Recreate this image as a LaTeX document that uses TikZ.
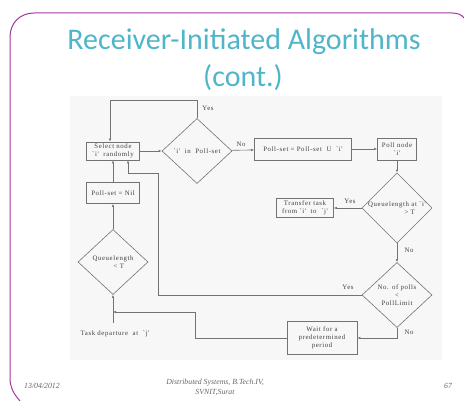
\documentclass[tikz,border=0pt]{standalone}
\usepackage{fontspec}
\setmainfont{Liberation Serif}
\newfontfamily\titlefont{Carlito}
\newfontfamily\scanfont[LetterSpace=9]{Liberation Serif}
\usetikzlibrary{shapes.geometric,arrows.meta}
\definecolor{qqccdd}{rgb}{0.31,0.71,0.79}
\definecolor{aaqqaa}{rgb}{0.64,0.22,0.62}
\definecolor{wwwwww}{rgb}{0.45,0.45,0.45}
\definecolor{ffffee}{rgb}{0.968,0.968,0.968}

\begin{document}
\begin{tikzpicture}[x=1pt,y=-1pt,
    box/.style={draw=wwwwww,line width=0.6pt,align=center,inner sep=1pt,font=\scanfont\fontsize{6.8}{7.8}\selectfont,text=black!75},
    dec/.style={box,diamond,inner sep=0pt,minimum width=70pt,minimum height=65pt},
    flow/.style={draw=wwwwww,line width=0.6pt,-{Latex[length=3pt,width=2.4pt]}},
    lab/.style={font=\scanfont\fontsize{6.8}{7.8}\selectfont,text=black!75}]
    \useasboundingbox (0,0) rectangle (464,401);
    \fill[color=ffffee] (70,96) rectangle (442,360);
    \draw [line width=1pt,color=aaqqaa] (20,401) .. controls (13,393) and (10,387) .. (10,378) -- (10,37) .. controls (10,23) and (20,13) .. (34,13) -- (452,13) .. controls (458,13) and (462,15) .. (464,18);
    \node[font=\titlefont\fontsize{30}{32}\selectfont,text=qqccdd] (title) at (244,42) {Receiver-Initiated Algorithms};
    \node[font=\titlefont\fontsize{30}{32}\selectfont,text=qqccdd] (cont) at (243,78) {(cont.)};
    \node[box,minimum width=53pt,minimum height=18pt] (sel) at (113,151) {Select node\\`i'\ \ randomly};
    \node[dec] (inset) at (197,151) {`i'\ \ in\ \ Poll-set};
    \node[box,minimum width=97pt,minimum height=22pt] (addset) at (303,149) {Poll-set = Poll-set\ \ U\ \ `i'};
    \node[box,minimum width=39pt,minimum height=22pt] (poll) at (397,149) {Poll node\\`i'};
    \node[dec,minimum height=66pt] (qgt) at (397,208) {Queuelength at `i'\\\ \ \ \ \ \ \ \ \ \ \ > T};
    \node[box,minimum width=57pt,minimum height=19pt] (transfer) at (305,208) {Transfer task\\from `i'\ \ to\ \ `j'};
    \node[dec] (npolls) at (397,295) {No. of polls\\<\\PollLimit};
    \node[box,minimum width=70pt,minimum height=33pt] (wait) at (322,338) {Wait for a\\predetermined\\period};
    \node[box,minimum width=53pt,minimum height=21pt] (nil) at (113,193) {Poll-set = Nil};
    \node[dec] (qlt) at (113,262) {Queuelength\\\ \ \ \ \ < T};
    \node[lab] (depart) at (115,334) {Task departure\ \ at\ \ `j'};
    \coordinate (tj) at (113,323);
    \coordinate (loop) at (158,173);
    \coordinate (join) at (195,312);
    \draw[flow] (sel) -- (inset);
    \draw[flow] (inset.north) -- ++(0,-18) -| ([xshift=-3pt]sel.north);
    \draw[flow] (inset) -- (addset);
    \draw[flow] (addset) -- (poll);
    \draw[flow] (poll) -- (qgt);
    \draw[flow] (qgt) -- (transfer);
    \draw[flow] (qgt) -- (npolls);
    \draw[flow] (npolls.west) -| (loop) -| ([xshift=15pt]sel.south);
    \draw[flow] (npolls.south) |- (wait.east);
    \draw[flow] (wait.west) -| (join) -- (join -| qlt);
    \draw[flow] (tj) -- (qlt.south);
    \draw[flow] (qlt) -- (nil);
    \draw[flow] (nil) -- (sel);
    \node[lab] (yes1) at (208,108) {Yes};
    \node[lab] (no1) at (241,144) {No};
    \node[lab] (yes2) at (350,201) {Yes};
    \node[lab] (no2) at (409,250) {No};
    \node[lab] (yes3) at (348,287) {Yes};
    \node[lab] (no3) at (409,332) {No};
    \begin{scriptsize}
        \node[font=\itshape\fontsize{7.8}{10}\selectfont,text=black!60] (date) at (42,386) {13/04/2012};
        \node[font=\itshape\fontsize{7.8}{10}\selectfont,text=black!60,align=center] (course) at (215,387) {Distributed Systems, B.Tech.IV,\\SVNIT,Surat};
        \node[font=\itshape\fontsize{7.8}{10}\selectfont,text=black!60] (page) at (448,386) {67};
    \end{scriptsize}
\end{tikzpicture}
\end{document}
